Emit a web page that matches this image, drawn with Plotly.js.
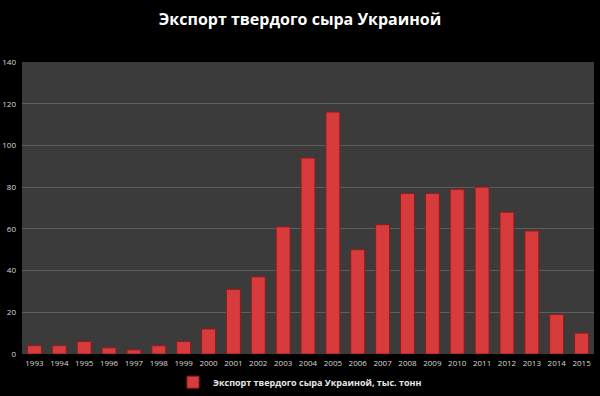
<!DOCTYPE html>
<html><head><meta charset="utf-8">
<script src="https://cdn.plot.ly/plotly-3.0.1.min.js"></script>
<style>html,body{margin:0;padding:0;background:#000;}#c{width:600px;height:396px;}</style>
</head><body><div id="c"></div>
<script>
const years = ["1993","1994","1995","1996","1997","1998","1999","2000","2001","2002","2003","2004","2005","2006","2007","2008","2009","2010","2011","2012","2013","2014","2015"];
const exportValues = [4,4,6,3,2,4,6,12,31,37,61,94,116,50,62,77,77,79,80,68,59,19,10];
const seriesName = "Экспорт твердого сыра Украиной, тыс. тонн";
const chartTitle = "Экспорт твердого сыра Украиной";
const yTicks = [0,20,40,60,80,100,120,140];

Plotly.newPlot("c", [{
  type: "bar", x: years, y: exportValues, name: "<b>" + seriesName + "</b>",
  marker: {color: "#d83b3b", line: {color: "#8e1c1c", width: 1}},
  showlegend: true
}], {
  width: 600, height: 396,
  paper_bgcolor: "#000", plot_bgcolor: "#3b3b3b",
  margin: {l: 22, r: 6, t: 62, b: 42},
  title: {text: "<b>" + chartTitle + "</b>", font: {family: "Open Sans", size: 16, color: "#fff"}, x: 0.5, xanchor: "center", y: 0.95, yanchor: "middle"},
  bargap: 0.44,
  font: {family: "Open Sans", color: "#d8d8d8", size: 8},
  xaxis: {type: "category", tickfont: {size: 8, color: "#d8d8d8"}, showgrid: false, zeroline: false, ticks: "", showline: false, ticklabelstandoff: 3, automargin: false},
  yaxis: {range: [0, 140], tickvals: yTicks, tickfont: {size: 8, color: "#d8d8d8"}, gridcolor: "#5e5e5e", gridwidth: 1, zeroline: false, ticks: "", ticklen: 0, automargin: false, ticklabelstandoff: 5},
  legend: {orientation: "h", x: 0.5, xanchor: "center", xref: "container", yref: "container", y: 0.035, yanchor: "middle", itemwidth: 30, font: {size: 9, color: "#e8e8e8", family: "Open Sans"}, bgcolor: "rgba(0,0,0,0)"},
  showlegend: true
}, {displayModeBar: false, staticPlot: true});
</script></body></html>
